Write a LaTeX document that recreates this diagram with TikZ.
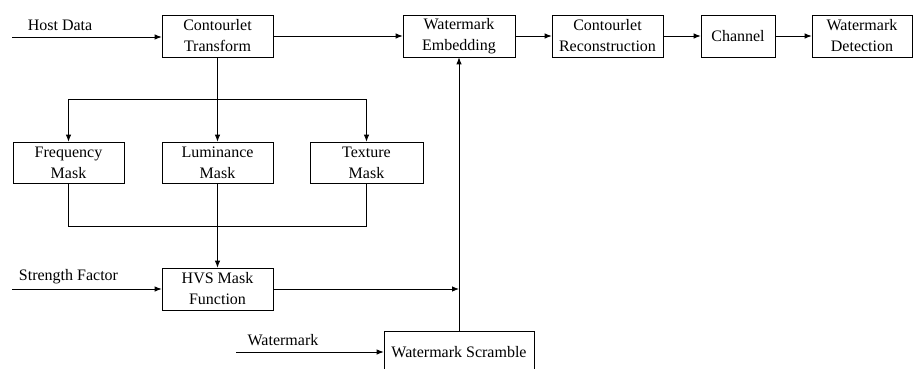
\documentclass[tikz,border=0pt]{standalone}
\usepackage{fontspec}
\setmainfont{Liberation Serif}
\usetikzlibrary{arrows.meta}
\begin{document}
\begin{tikzpicture}[x=1pt,y=-1pt,
  blk/.style={draw,line width=0.8pt,minimum height=42pt,inner sep=0pt,align=center,
    font=\fontsize{16}{21}\selectfont},
  lbl/.style={inner sep=0pt,font=\fontsize{16}{19}\selectfont},
  conn/.style={line width=0.8pt},
  arr/.style={conn,-{Latex[length=7pt,width=5.5pt]}}]
\useasboundingbox (0,0) rectangle (915,369);
% boxes
\node[blk,minimum width=111pt] (ct) at (217.5,36) {Contourlet\\Transform};
\node[blk,minimum width=112pt] (we) at (459,36) {Watermark\\Embedding};
\node[blk,minimum width=111pt] (cr) at (607.5,36) {Contourlet\\Reconstruction};
\node[blk,minimum width=74pt] (ch) at (738,36) {Channel};
\node[blk,minimum width=100pt] (wd) at (862,36) {Watermark\\Detection};
\node[blk,minimum width=111pt,minimum height=41pt] (fm) at (68.5,162.5) {Frequency\\Mask};
\node[blk,minimum width=111pt,minimum height=41pt] (lm) at (217.5,162.5) {Luminance\\Mask};
\node[blk,minimum width=113pt,minimum height=41pt] (tm) at (366.5,162.5) {Texture\\Mask};
\node[blk,minimum width=111pt] (hvs) at (217.5,289) {HVS Mask\\Function};
\node[blk,minimum width=150pt] (ws) at (459,352) {Watermark Scramble};
% labels
\node[lbl] (hd) at (60,25) {Host Data};
\node[lbl] (sf) at (68.5,277) {Strength Factor};
\node[lbl] (wm) at (283,340) {Watermark};
% free ends
\coordinate (hdin) at (12,37);
\coordinate (sfin) at (12,289);
\coordinate (wmin) at (236,352);
\coordinate (splt) at (217.5,99);
\coordinate (jn) at (459,289);
% connectors
\draw[arr] (hdin) -- (hdin -| ct.west);
\draw[arr] (ct.east |- we.west) -- (we.west);
\draw[arr] (we) -- (cr);
\draw[arr] (cr) -- (ch);
\draw[arr] (ch) -- (wd);
\draw[conn] (ct.south) -- (splt);
\draw[conn] (splt -| fm) -- (splt -| tm);
\draw[arr] (splt -| fm) -- (fm.north);
\draw[arr] (splt) -- (lm.north);
\draw[arr] (splt -| tm) -- (tm.north);
\draw[conn] (fm.south) -- ++(0,43) -| (tm.south);
\draw[arr] (lm.south) -- (hvs.north);
\draw[arr] (sfin) -- (hvs.west);
\draw[arr] (hvs.east) -- (jn);
\draw[arr] (ws.north) -- (we.south);
\draw[arr] (wmin) -- (ws.west);
\end{tikzpicture}
\end{document}
